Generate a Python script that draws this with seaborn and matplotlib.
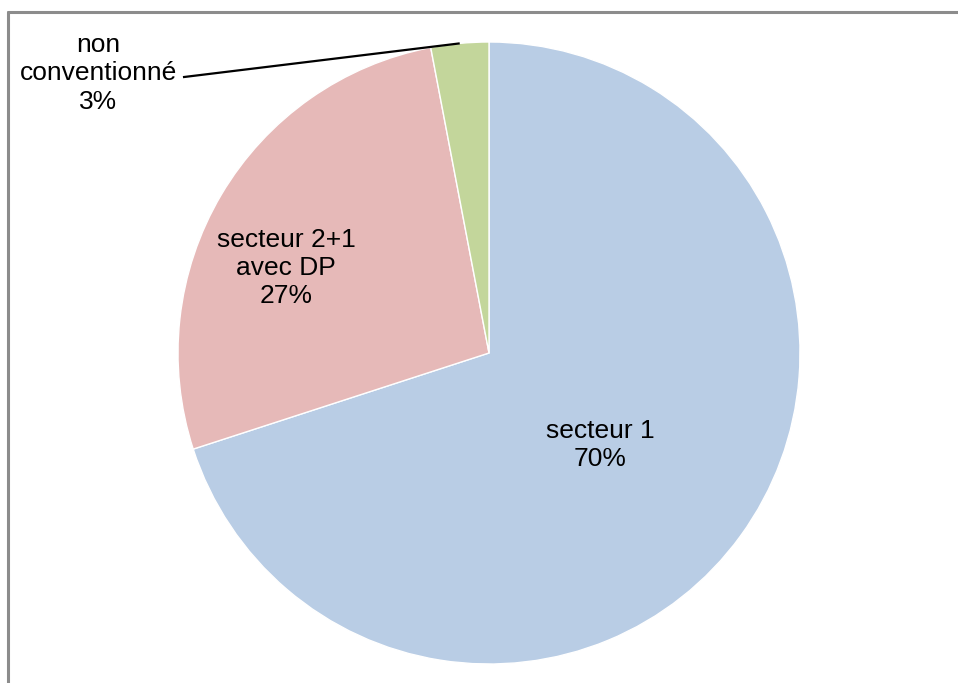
import numpy as np
import matplotlib
matplotlib.use("Agg")
import matplotlib.pyplot as plt
from matplotlib.lines import Line2D
import seaborn as sns

# Répartition par secteur d'exercice
categories = ["secteur 1", "secteur 2+1\navec DP", "non\nconventionné"]
shares = [70, 27, 3]
colors = ["#B9CDE5", "#E6B9B8", "#C3D69B"]

sns.set_theme(style="white")
plt.rcParams["font.family"] = ["Liberation Sans", "DejaVu Sans"]

W, H, DPI = 958, 683, 100
fig = plt.figure(figsize=(W / DPI, H / DPI), dpi=DPI)
ax = fig.add_axes([0, 0, 1, 1])

palette = sns.color_palette(colors)
wedges, _ = ax.pie(
    shares,
    colors=palette,
    startangle=90,
    counterclock=False,
    radius=1.0,
    wedgeprops=dict(edgecolor="white", linewidth=1.0),
)

# pie centre at (489, 353) px, radius 311 px
cx, cy, r = 489, 353, 311
ax.set_aspect("auto")
ax.set_xlim(-cx / r, (W - cx) / r)
ax.set_ylim(-(H - cy) / r, cy / r)
ax.axis("off")

fs = 19
ls = 1.22
labels = [f"{c}\n{v}%" for c, v in zip(categories, shares)]

# inner labels
ax.text(0.357, -0.296, labels[0], ha="center", va="center", fontsize=fs,
        color="black", linespacing=ls)
ax.text(-0.652, 0.273, labels[1], ha="center", va="center", fontsize=fs,
        color="black", linespacing=ls)

# outer label with leader line to the small wedge
w = wedges[2]
mid = np.deg2rad((w.theta1 + w.theta2) / 2)
tip = (np.cos(mid), np.sin(mid))
ax.text(-1.257, 0.899, labels[2], ha="center", va="center", fontsize=fs,
        color="black", linespacing=ls)
ax.plot([-0.984, tip[0]], [0.887, tip[1]], color="black", lw=1.6,
        solid_capstyle="butt")

# chart area frame
frame_kw = dict(color="#8C8C8C", lw=2.2, transform=fig.transFigure)
fig.add_artist(Line2D([8 / W, 1.0], [1 - 12 / H, 1 - 12 / H], **frame_kw))
fig.add_artist(Line2D([8 / W, 8 / W], [0.0, 1 - 12 / H], **frame_kw))

fig.savefig("out.png", dpi=DPI, facecolor="white")
